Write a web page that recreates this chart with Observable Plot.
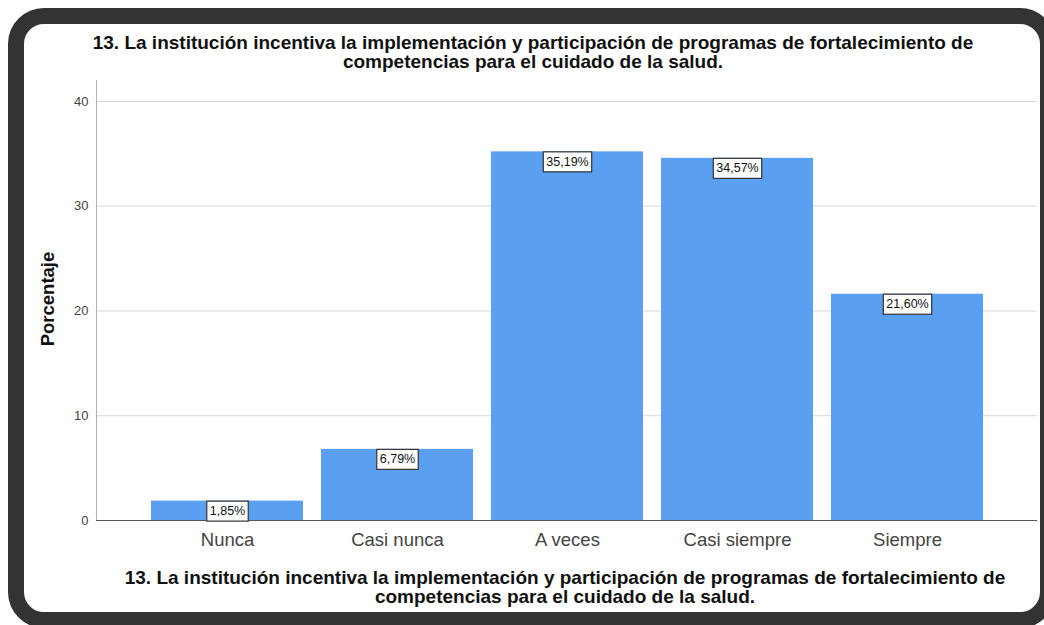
<!DOCTYPE html>
<html>
<head>
<meta charset="utf-8">
<script src="https://cdn.jsdelivr.net/npm/d3@7"></script>
<script src="https://cdn.jsdelivr.net/npm/@observablehq/plot@0.6"></script>
<style>
  html, body { margin: 0; padding: 0; background: #fff; overflow: hidden; }
  body { width: 1044px; height: 625px; position: relative; font-family: "Liberation Sans", Arial, sans-serif; }
  #frame { position: absolute; left: 8px; top: 8px; width: 1016px; height: 588px; border: 16px solid #333; border-radius: 36px; z-index: 0; }
  #chart { position: absolute; left: 0; top: 0; z-index: 1; }
  .title { position: absolute; width: 1000px; text-align: center; font-weight: bold; font-size: 19px; line-height: 19px; color: #111; z-index: 2; white-space: nowrap; }
  #ylabel { position: absolute; left: 48px; top: 299px; transform: translate(-50%, -50%) rotate(-90deg); font-weight: bold; font-size: 18.5px; color: #111; white-space: nowrap; z-index: 2; }
</style>
</head>
<body>
<div id="frame"></div>
<div id="chart"></div>
<div class="title" id="t1" style="left:33px; top:33px;"></div>
<div class="title" id="t2" style="left:65px; top:568px;"></div>
<div id="ylabel">Porcentaje</div>
<script>
const titleLines = ["13. La institución incentiva la implementación y participación de programas de fortalecimiento de", "competencias para el cuidado de la salud."];
const categories = ["Nunca", "Casi nunca", "A veces", "Casi siempre", "Siempre"];
const percentages = [1.85, 6.79, 35.19, 34.57, 21.60];
const valueLabels = ["1,85%", "6,79%", "35,19%", "34,57%", "21,60%"];
const yTicks = [0, 10, 20, 30, 40];

document.getElementById("t1").innerHTML = titleLines.join("<br>");
document.getElementById("t2").innerHTML = titleLines.join("<br>");

const data = categories.map((c, i) => ({cat: c, value: percentages[i], label: valueLabels[i]}));

const chart = Plot.plot({
  width: 1044,
  height: 625,
  marginLeft: 96,
  marginRight: 7,
  marginTop: 80,
  marginBottom: 105,
  style: {fontFamily: "'Liberation Sans', Arial, sans-serif", background: "transparent"},
  x: {domain: categories, paddingInner: 0.106, paddingOuter: 0.318, label: null},
  y: {domain: [0, 42], label: null},
  marks: [
    Plot.gridY(yTicks, {stroke: "#d6d6d6", strokeOpacity: 1}),
    Plot.frame({anchor: "left", stroke: "#b0b0b0"}),
    Plot.barY(data, {x: "cat", y: "value", fill: "#5b9ff1"}),
    Plot.ruleY([0], {stroke: "#555"}),
    Plot.axisY({ticks: yTicks, tickSize: 0, tickPadding: 8, fontSize: 13, color: "#444", label: null}),
    Plot.axisX({tickSize: 0, tickPadding: 12, fontSize: 18.5, color: "#444", label: null}),
    Plot.text(data, {x: "cat", y: "value", text: "label", dy: 10, fontSize: 12.5, fill: "#111", className: "vlabel", lineAnchor: "middle"})
  ]
});
document.getElementById("chart").appendChild(chart);

// add boxes behind value labels
const svg = d3.select(chart.tagName === "svg" ? chart : chart.querySelector("svg"));
svg.selectAll("g.vlabel text").each(function() {
  const b = this.getBBox();
  const g = this.parentNode;
  const t = this.getAttribute("transform");
  const r = document.createElementNS("http://www.w3.org/2000/svg", "rect");
  r.setAttribute("x", b.x - 3);
  r.setAttribute("y", b.y + b.height / 2 - 10);
  r.setAttribute("width", b.width + 6);
  r.setAttribute("height", 20);
  r.setAttribute("fill", "#fff");
  r.setAttribute("stroke", "#333");
  r.setAttribute("stroke-width", 1.2);
  if (t) r.setAttribute("transform", t);
  g.insertBefore(r, this);
});
</script>
</body>
</html>
